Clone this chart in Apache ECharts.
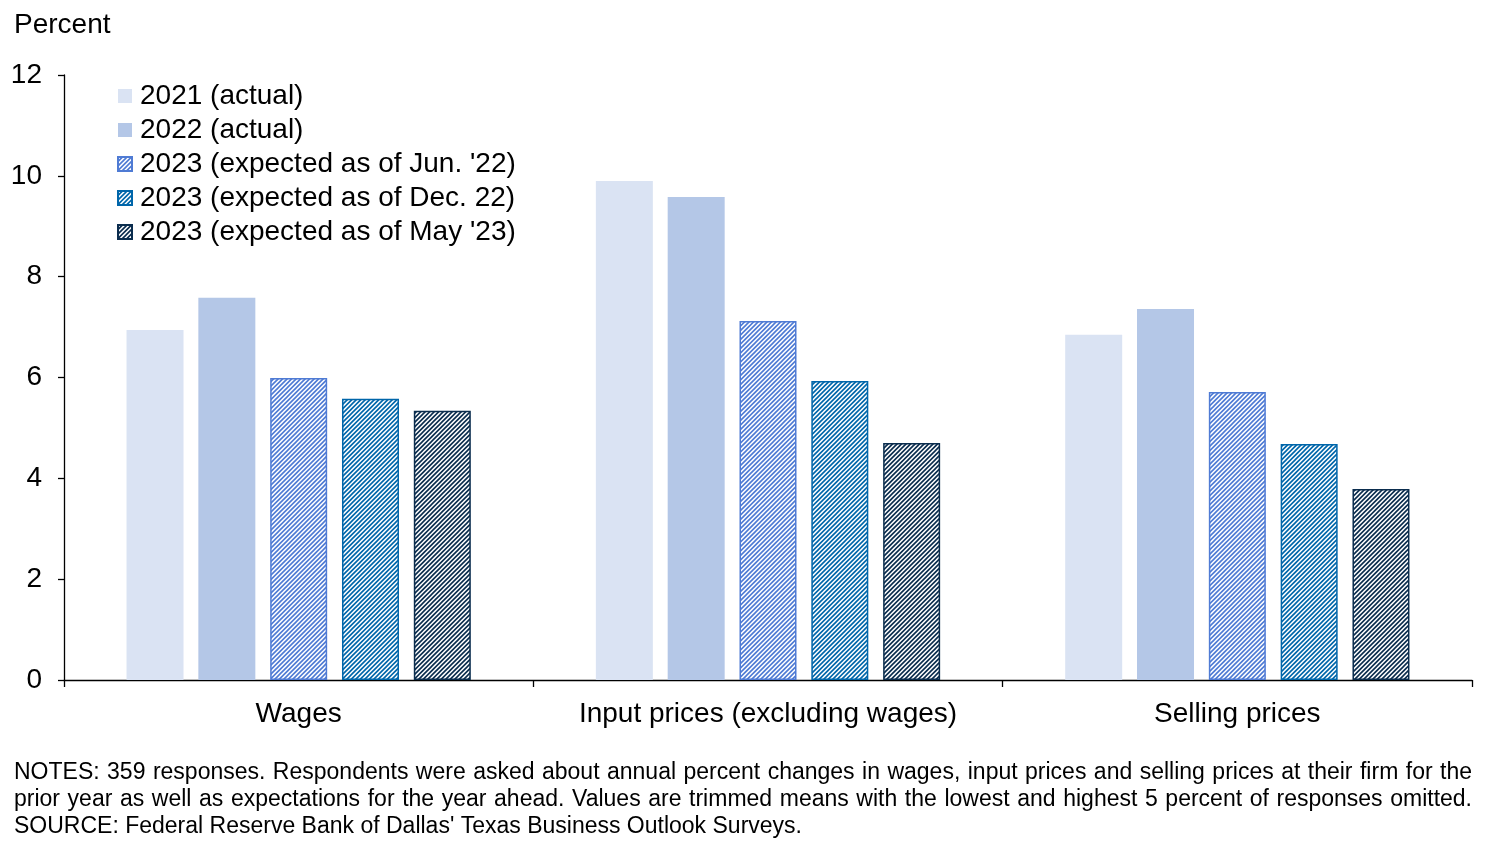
<!DOCTYPE html>
<html>
<head>
<meta charset="utf-8">
<script src="https://cdn.jsdelivr.net/npm/echarts@6/dist/echarts.min.js"></script>
<style>
html,body{margin:0;padding:0;background:#fff;}
#chart{width:1494px;height:846px;}
</style>
</head>
<body>
<div id="chart"></div>
<script>
const categories = ['Wages', 'Input prices (excluding wages)', 'Selling prices'];
const seriesNames = ['2021 (actual)', '2022 (actual)', "2023 (expected as of Jun. '22)", '2023 (expected as of Dec. 22)', "2023 (expected as of May '23)"];
const v2021 = [6.94, 9.90, 6.85];
const v2022 = [7.58, 9.58, 7.36];
const vJun22 = [5.99, 7.12, 5.71];
const vDec22 = [5.58, 5.93, 4.68];
const vMay23 = [5.34, 4.70, 3.79];
const yTicks = [0, 2, 4, 6, 8, 10, 12];
const notes = [
  'NOTES: 359 responses. Respondents were asked about annual percent changes in wages, input prices and selling prices at their firm for the',
  'prior year as well as expectations for the year ahead. Values are trimmed means with the lowest and highest 5 percent of responses omitted.',
  "SOURCE: Federal Reserve Bank of Dallas' Texas Business Outlook Surveys."
];

const FONT = '"Liberation Sans", Arial, sans-serif';
const NOTE_FONT = '23px ' + FONT;
const FS = 28;

function hatch(color) {
  const s = 9;
  const c = document.createElement('canvas');
  c.width = s; c.height = s;
  const ctx = c.getContext('2d');
  ctx.fillStyle = '#fff';
  ctx.fillRect(0, 0, s, s);
  ctx.strokeStyle = color;
  ctx.lineWidth = 1.6;
  ctx.beginPath();
  // diagonal "/" stripes, period 4.5 px horizontally
  for (let k = -2; k <= 4; k++) {
    const off = k * 4.5;
    ctx.moveTo(off - 1, s + 1);
    ctx.lineTo(off + s + 1, -1);
  }
  ctx.stroke();
  return { image: c, repeat: 'repeat' };
}

const solidColors = ['#DAE3F3', '#B4C7E7'];
const hatchColors = ['#4F7BD4', '#0066AA', '#0B2D4E'];
const dataSets = [v2021, v2022, vJun22, vDec22, vMay23];

const series = dataSets.map((d, i) => {
  const s = {
    name: seriesNames[i],
    type: 'bar',
    data: d,
    barWidth: 57,
    barGap: '26%',
    animation: false
  };
  if (i < 2) {
    s.itemStyle = { color: solidColors[i] };
  } else {
    s.itemStyle = { color: hatch(hatchColors[i - 2]), borderColor: hatchColors[i - 2], borderWidth: 1.5 };
  }
  return s;
});

// justified notes text (lines 1-2 justified, last line left)
const mctx = document.createElement('canvas').getContext('2d');
mctx.font = NOTE_FONT;
const noteLeft = 14, noteRight = 1472, noteTop = 761, noteLH = 27;
const noteGraphics = [];
notes.forEach((line, li) => {
  const top = noteTop + li * noteLH;
  if (li === notes.length - 1) {
    noteGraphics.push({ type: 'text', left: noteLeft, top, style: { text: line, font: NOTE_FONT, fill: '#000' } });
    return;
  }
  const words = line.split(' ');
  const widths = words.map(w => mctx.measureText(w).width);
  const total = widths.reduce((a, b) => a + b, 0);
  const gap = (noteRight - noteLeft - total) / (words.length - 1);
  let x = noteLeft;
  words.forEach((w, wi) => {
    noteGraphics.push({ type: 'text', x, y: top, style: { text: w, font: NOTE_FONT, fill: '#000' } });
    x += widths[wi] + gap;
  });
});

const chart = echarts.init(document.getElementById('chart'));
chart.setOption({
  animation: false,
  backgroundColor: '#fff',
  grid: { left: 64, right: 22, top: 75, bottom: 166, containLabel: false },
  legend: {
    orient: 'vertical',
    left: 112,
    top: 77,
    itemWidth: 14,
    itemHeight: 14,
    itemGap: 6,
    icon: 'rect',
    textStyle: { fontFamily: FONT, fontSize: FS, color: '#000', padding: [0, 0, 0, 3] },
    data: seriesNames
  },
  xAxis: {
    type: 'category',
    data: categories,
    axisLine: { lineStyle: { color: '#000', width: 1.3 } },
    axisTick: { show: true, length: 7, interval: 0, lineStyle: { color: '#000', width: 1.3 } },
    axisLabel: { fontFamily: FONT, fontSize: FS, color: '#000', margin: 20, interval: 0 }
  },
  yAxis: {
    type: 'value',
    min: 0, max: 12, interval: 2,
    axisLine: { show: true, lineStyle: { color: '#000', width: 1.3 } },
    axisTick: { show: true, length: 6, lineStyle: { color: '#000', width: 1.3 } },
    splitLine: { show: false },
    axisLabel: { fontFamily: FONT, fontSize: FS, color: '#000', margin: 22,
      formatter: v => yTicks.includes(v) ? String(v) : '' }
  },
  graphic: [
    { type: 'text', left: 14, top: 11, style: { text: 'Percent', font: FS + 'px ' + FONT, fill: '#000' } },
    ...noteGraphics
  ],
  series
});
</script>
</body>
</html>
